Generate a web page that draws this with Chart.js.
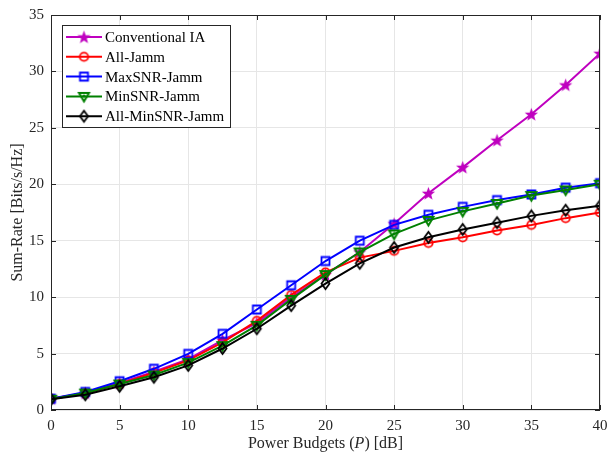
<!DOCTYPE html>
<html>
<head>
<meta charset="utf-8">
<script src="https://cdn.jsdelivr.net/npm/chart.js@4.4.0/dist/chart.umd.min.js"></script>
<style>
  html, body { margin: 0; padding: 0; background: #fff; }
</style>
</head>
<body>
<canvas id="grafico" width="607" height="458"></canvas>
<script>
// dados
const potencia = [0, 2.5, 5, 7.5, 10, 12.5, 15, 17.5, 20, 22.5, 25, 27.5, 30, 32.5, 35, 37.5, 40];
const convencionalIA = [1.0, 1.5, 2.4, 3.4, 4.5, 6.2, 7.7, 10.0, 12.0, 14.0, 16.5, 19.2, 21.5, 23.9, 26.2, 28.8, 31.6];
const allJamm = [1.0, 1.5, 2.3, 3.3, 4.4, 6.0, 7.9, 10.2, 12.2, 13.5, 14.1, 14.8, 15.3, 15.9, 16.4, 17.0, 17.5];
const maxSNR = [1.0, 1.6, 2.55, 3.65, 4.97, 6.75, 8.9, 11.05, 13.2, 15.0, 16.4, 17.3, 18.0, 18.6, 19.1, 19.7, 20.1];
const minSNR = [0.95, 1.5, 2.3, 3.1, 4.2, 5.7, 7.5, 9.8, 12.0, 14.0, 15.6, 16.8, 17.6, 18.3, 19.0, 19.5, 20.0];
const allMinSNR = [0.95, 1.35, 2.1, 2.9, 3.95, 5.45, 7.2, 9.25, 11.2, 13.0, 14.4, 15.3, 16.0, 16.6, 17.2, 17.7, 18.1];
const rotulos = ['Conventional IA', 'All-Jamm', 'MaxSNR-Jamm', 'MinSNR-Jamm', 'All-MinSNR-Jamm'];
const ticksX = [0, 5, 10, 15, 20, 25, 30, 35, 40];
const ticksY = [0, 5, 10, 15, 20, 25, 30, 35];

const fonte = '"Liberation Serif", "Times New Roman", serif';

// marcadores desenhados em pequenos canvas
function marcador(tipo, cor) {
  const c = document.createElement('canvas');
  c.width = 15; c.height = 15;
  const g = c.getContext('2d');
  const m = 7.5;
  g.strokeStyle = cor; g.fillStyle = cor; g.lineWidth = 1.5;
  g.beginPath();
  if (tipo === 'estrela') {
    for (let i = 0; i < 10; i++) {
      const r = i % 2 === 0 ? 7 : 2.9;
      const a = -Math.PI / 2 + i * Math.PI / 5;
      const px = m + r * Math.cos(a), py = m + 0.5 + r * Math.sin(a);
      if (i === 0) g.moveTo(px, py); else g.lineTo(px, py);
    }
    g.closePath(); g.fill();
  } else if (tipo === 'circulo') {
    g.lineWidth = 1.8;
    g.arc(m, m, 4.2, 0, Math.PI * 2); g.stroke();
  } else if (tipo === 'quadrado') {
    g.lineWidth = 1.8;
    g.rect(m - 4, m - 4, 8, 8); g.stroke();
  } else if (tipo === 'triangulo') {
    g.lineWidth = 2;
    g.moveTo(m - 5, m - 3.5); g.lineTo(m + 5, m - 3.5); g.lineTo(m, m + 5); g.closePath();
    g.stroke();
    g.beginPath(); g.arc(m, m - 0.5, 1.5, 0, Math.PI * 2); g.fill();
  } else if (tipo === 'losango') {
    g.lineWidth = 1.8;
    g.moveTo(m, m - 5.5); g.lineTo(m + 4, m); g.lineTo(m, m + 5.5); g.lineTo(m - 4, m); g.closePath();
    g.stroke();
  }
  return c;
}

const cores = ['#bf00bf', '#ff0000', '#0000ff', '#008000', '#000000'];
const marcas = [
  marcador('estrela', cores[0]),
  marcador('circulo', cores[1]),
  marcador('quadrado', cores[2]),
  marcador('triangulo', cores[3]),
  marcador('losango', cores[4])
];
const series = [convencionalIA, allJamm, maxSNR, minSNR, allMinSNR];

const conjuntos = series.map((s, i) => ({
  label: rotulos[i],
  data: s.map((v, j) => ({ x: potencia[j], y: v })),
  borderColor: cores[i],
  backgroundColor: cores[i],
  borderWidth: 2,
  pointStyle: marcas[i],
  order: 5 - i // o último fica por cima, como no MATLAB
}));

// moldura, ticks para dentro, títulos e legenda
const moldura = {
  id: 'moldura',
  afterDatasetsDraw(chart) {
    const { ctx, chartArea: a, scales } = chart;
    ctx.save();
    ctx.strokeStyle = '#262626';
    ctx.lineWidth = 1;
    ctx.strokeRect(a.left + 0.5, a.top + 0.5, a.right - a.left - 1, a.bottom - a.top - 1);
    ctx.beginPath();
    ticksX.forEach(t => {
      const x = Math.round(scales.x.getPixelForValue(t)) + 0.5;
      ctx.moveTo(x, a.bottom); ctx.lineTo(x, a.bottom - 5);
      ctx.moveTo(x, a.top); ctx.lineTo(x, a.top + 5);
    });
    ticksY.forEach(t => {
      const y = Math.round(scales.y.getPixelForValue(t)) + 0.5;
      ctx.moveTo(a.left, y); ctx.lineTo(a.left + 5, y);
      ctx.moveTo(a.right, y); ctx.lineTo(a.right - 5, y);
    });
    ctx.stroke();

    // títulos dos eixos
    ctx.fillStyle = '#262626';
    ctx.textBaseline = 'middle';
    const partes = [['Power Budgets (', ''], ['P', 'italic '], [') [dB]', '']];
    let larg = 0;
    partes.forEach(p => { ctx.font = p[1] + '16px ' + fonte; larg += ctx.measureText(p[0]).width; });
    let x0 = (a.left + a.right) / 2 - larg / 2;
    ctx.textAlign = 'left';
    partes.forEach(p => {
      ctx.font = p[1] + '16px ' + fonte;
      ctx.fillText(p[0], x0, 444);
      x0 += ctx.measureText(p[0]).width;
    });
    ctx.save();
    ctx.translate(18, (a.top + a.bottom) / 2);
    ctx.rotate(-Math.PI / 2);
    ctx.textAlign = 'center';
    ctx.font = '16px ' + fonte;
    ctx.fillText('Sum-Rate [Bits/s/Hz]', 0, 0);
    ctx.restore();

    // legenda
    const lx = 62, ly = 25, lw = 168, lh = 102;
    ctx.fillStyle = '#fff';
    ctx.fillRect(lx, ly, lw, lh);
    ctx.strokeStyle = '#262626';
    ctx.strokeRect(lx + 0.5, ly + 0.5, lw, lh);
    ctx.font = '15px ' + fonte;
    ctx.textAlign = 'left';
    chart.data.datasets.forEach((d, i) => {
      const y = 37 + i * 19.8;
      ctx.strokeStyle = d.borderColor;
      ctx.lineWidth = 2;
      ctx.beginPath(); ctx.moveTo(66, y); ctx.lineTo(102, y); ctx.stroke();
      ctx.drawImage(d.pointStyle, 84 - 7.5, y - 7.5);
      ctx.fillStyle = '#000';
      ctx.fillText(d.label, 105, y + 1);
    });
    ctx.restore();
  }
};

new Chart(document.getElementById('grafico').getContext('2d'), {
  type: 'line',
  data: { datasets: conjuntos },
  plugins: [moldura],
  options: {
    responsive: false,
    animation: false,
    layout: { padding: { left: 0, top: 15, right: 7, bottom: 0 } },
    plugins: {
      legend: { display: false },
      title: { display: false },
      tooltip: { enabled: false }
    },
    scales: {
      x: {
        type: 'linear',
        min: 0, max: 40,
        afterFit: s => { s.height = 48; s.paddingLeft = 0; s.paddingRight = 0; },
        afterBuildTicks: s => { s.ticks = ticksX.map(v => ({ value: v })); },
        grid: { color: '#e6e6e6', drawTicks: false },
        border: { display: false },
        ticks: { color: '#262626', padding: 7, font: { family: fonte, size: 15 } }
      },
      y: {
        min: 0, max: 35,
        afterFit: s => { s.width = 51; s.paddingTop = 0; s.paddingBottom = 0; },
        afterBuildTicks: s => { s.ticks = ticksY.map(v => ({ value: v })); },
        grid: { color: '#e6e6e6', drawTicks: false },
        border: { display: false },
        ticks: { color: '#262626', padding: 7, font: { family: fonte, size: 15 } }
      }
    }
  }
});
</script>
</body>
</html>
